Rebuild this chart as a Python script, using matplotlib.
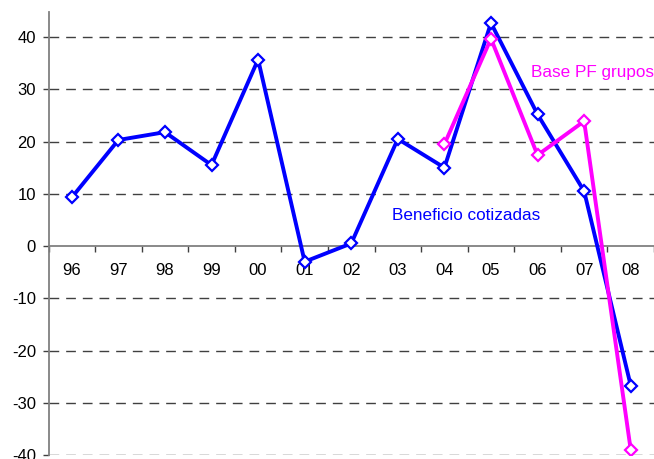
import numpy as np
import matplotlib
matplotlib.use('Agg')
import matplotlib.pyplot as plt

# Datos (%)
years = ['96', '97', '98', '99', '00', '01', '02', '03', '04', '05', '06', '07', '08']
beneficio_cotizadas = [9.3, 20.3, 21.8, 15.5, 35.7, -3.0, 0.5, 20.5, 15.0, 42.7, 25.2, 10.5, -26.7]
base_pf_years = ['04', '05', '06', '07', '08']
base_pf_grupos = [19.5, 39.7, 17.4, 23.9, -39.0]

plt.rcParams['font.family'] = ['Liberation Sans', 'DejaVu Sans']
plt.rcParams['axes.unicode_minus'] = False

fig = plt.figure(figsize=(6.54, 4.59), dpi=100)
ax = fig.add_axes([48.5 / 654, 4 / 459, 1 - 48.5 / 654, 443 / 459])

x = np.arange(len(years))
x_pf = np.array([years.index(y) for y in base_pf_years])

# rejilla discontinua
for v in [-40, -30, -20, -10, 10, 20, 30, 40]:
    ax.axhline(v, color='#404040', lw=1.0, dashes=(7, 5), zorder=1)

ax.plot(x, beneficio_cotizadas, color='#0000FF', lw=2.8, marker='D', ms=6,
        mfc='white', mec='#0000FF', mew=1.6, zorder=3)
ax.plot(x_pf, base_pf_grupos, color='#FF00FF', lw=2.8, marker='D', ms=6,
        mfc='white', mec='#FF00FF', mew=1.6, zorder=4)

ax.text(9.85, 33.3, 'Base PF grupos', color='#FF00FF', fontsize=12.3, va='center', ha='left')
ax.text(6.87, 5.9, 'Beneficio cotizadas', color='#0000FF', fontsize=12.3, va='center', ha='left')

ax.set_xlim(-0.5, (654 - 48.5) / 47 - 0.5)
ax.set_ylim(-40, 44.8)

for s in ['top', 'right']:
    ax.spines[s].set_visible(False)
ax.spines['left'].set_color('#808080')
ax.spines['left'].set_linewidth(1.3)
ax.spines['bottom'].set_position(('data', 0))
ax.spines['bottom'].set_color('#808080')
ax.spines['bottom'].set_linewidth(1.3)

ax.set_xticks(x)
ax.set_xticklabels(years)
ax.set_xticks(np.arange(-0.5, len(years), 1), minor=True)
ax.tick_params(axis='x', which='major', length=0, pad=12, labelsize=12)
ax.tick_params(axis='x', which='minor', length=4, width=1, color='#404040', direction='out')

ax.set_yticks(np.arange(-40, 41, 10))
ax.tick_params(axis='y', length=4, width=1, color='#404040', direction='out', pad=5, labelsize=12)

# título (cortado en el borde superior)
fig.text(502 / 654, 1.0 + 5 / 459, '(%)', fontsize=14, fontweight='bold', ha='center', va='baseline')

fig.savefig('out.png', dpi=100)
